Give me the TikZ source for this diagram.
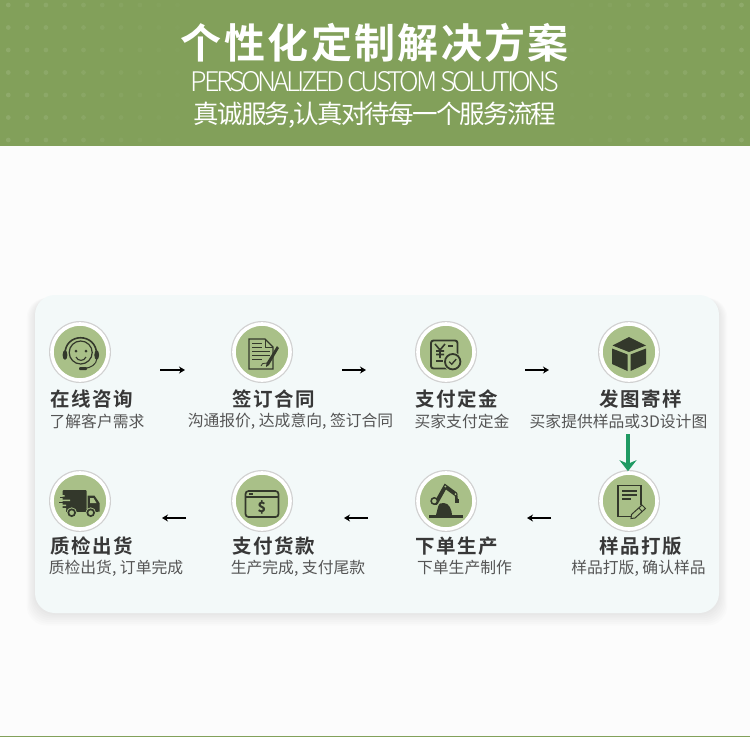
\documentclass[tikz,border=0pt]{standalone}
\usepackage{fontspec}
\usetikzlibrary{arrows.meta,calc}
\setmainfont{Noto Sans CJK SC}
\newfontfamily\titlefont[LetterSpace=5.8]{Noto Sans CJK SC Bold}
\newfontfamily\headfont[LetterSpace=8]{Noto Sans CJK SC Bold}
\newfontfamily\subfont{Noto Sans CJK SC}
\newfontfamily\thinfont[LetterSpace=-12]{Noto Sans CJK SC Light}
\newfontfamily\tagfont[LetterSpace=-7]{Noto Sans CJK SC}
\definecolor{bannergreen}{HTML}{82A05A}
\definecolor{pagebg}{HTML}{FCFCFC}
\definecolor{cardbg}{HTML}{F3F9F9}
\definecolor{discgreen}{HTML}{A9C088}
\definecolor{icondark}{HTML}{33382B}
\definecolor{headtext}{HTML}{383838}
\definecolor{subtext}{HTML}{555555}
\definecolor{arrowgreen}{HTML}{1F9A63}
\tikzset{
  disc/.style={circle,draw=white,line width=3.6pt,fill=discgreen,minimum size=56pt,inner sep=0pt},
  headlabel/.style={font=\headfont\fontsize{19.5}{22}\selectfont,text=headtext,inner sep=0pt},
  sublabel/.style={font=\subfont\fontsize{15.8}{18}\selectfont,text=subtext,inner sep=0pt},
  flowarrow/.style={draw=black,line width=1.2pt,-{Stealth[length=6pt,width=7pt]}},
  greenarrow/.style={draw=arrowgreen,line width=3.2pt,-{Stealth[length=11pt,width=17pt]}},
  iconline/.style={draw=icondark,line width=1.3pt},
  iconfill/.style={fill=icondark,draw=none}
}
\begin{document}
\begin{tikzpicture}[x=1pt,y=-1pt]
\useasboundingbox (0,0) rectangle (750,737);
\fill[pagebg] (0,0) rectangle (750,737);
% banner
\fill[bannergreen] (0,0) rectangle (750,146);
\foreach \r in {0,...,6}{
  \foreach \c in {0,...,39}{
    \pgfmathsetmacro{\dx}{8.3+18.8*\c}
    \pgfmathsetmacro{\dy}{5+22.5*\r}
    \pgfmathsetmacro{\op}{min(0.11,max(0,(abs(\dx-375)-170)/205*0.11))}
    \fill[white,opacity=\op] (\dx,\dy) circle[radius=2.4];
  }
}
\fill[bannergreen] (0,735.5) rectangle (750,737);
\node[font=\titlefont\fontsize{41}{44}\selectfont,text=white,inner sep=0pt] (title) at (375,43) {个性化定制解决方案};
\node[font=\thinfont\fontsize{27}{30}\selectfont,text=white,inner sep=0pt] (entitle) at (375,81.5) {PERSONALIZED CUSTOM SOLUTIONS};
\node[font=\tagfont\fontsize{25.5}{28}\selectfont,text=white,inner sep=0pt] (tagline) at (375,115) {真诚服务,认真对待每一个服务流程};
% card with shadow
\foreach \g in {14,12,10,8,6,4,2}{
  \fill[black,opacity=0.012] (35-\g*0.6,295+3) [rounded corners=20pt] rectangle (719+\g*0.6,613+\g*0.9);
}
\fill[cardbg,rounded corners=20pt] (35,295) rectangle (719,613);
% discs
\foreach \n/\x/\y in {c1/80/352,c2/262/352,c3/446/352,c4/629/352,c5/629/501,c6/446/501,c7/262/501,c8/80/501}{
  \fill[black!18] (\x,\y) circle[radius=31];
  \node[disc] (\n) at (\x,\y) {};
}
% icon 1 headset
\draw[iconline,line width=1.6pt] (65,355) .. controls (64,332) and (97,332) .. (96.7,355);
\draw[iconline,line width=1.2pt] (80.7,352.5) circle[radius=11.5];
\fill[icondark] (76,351) circle[radius=1.5] (86,351) circle[radius=1.5];
\draw[iconline,line width=1.1pt] (76,357) .. controls (78,361.5) and (84,361.5) .. (86,357);
\fill[icondark] (65,355) ellipse[x radius=2.4,y radius=4.8] (96.7,355) ellipse[x radius=2.4,y radius=4.8];
\draw[iconline,line width=1pt] (96.7,359) .. controls (96.7,364) and (91,368) .. (84,368.5);
\fill[icondark,rounded corners=1pt] (79,367) rectangle (87,370);
% icon 2 contract
\draw[iconline] (249,339) -- (265,339) -- (273,347) -- (273,369) -- (249,369) -- cycle;
\draw[iconline,line width=1pt] (265,339) -- (265,347) -- (273,347);
\foreach \ly/\lx in {343/262,347/262,351/270,355/270,359/262}{
  \draw[iconline,line width=1pt] (252,\ly) -- (\lx,\ly);
}
\fill[icondark] (277,346) -- (279,348) -- (269,365) -- (266,367) -- (266.5,363) -- cycle;
\draw[iconline,line width=.8pt] (261,366) .. controls (263,361) and (265,365) .. (267,363);
% icon 3 receipt
\draw[iconline,line width=1.9pt,rounded corners=2.5pt] (447,368.5) -- (431,368.5) -- (431,340.5) -- (457.5,340.5) -- (457.5,356);
\draw[iconline,line width=1.6pt] (435,344) -- (440,350) -- (445,344) (440,350) -- (440,358) (436,351) -- (444,351) (436,354.5) -- (444,354.5);
\draw[iconline,line width=1.7pt] (448,345.7) -- (453,345.7) (436,361) -- (443,361);
\fill[discgreen] (452.7,361.7) circle[radius=9.5];
\draw[iconline,line width=1.8pt] (452.7,361.7) circle[radius=7.7];
\draw[iconline,line width=1.4pt] (449.2,361.7) -- (451.7,364.2) -- (456.2,359.2);
% icon 4 cube
\fill[icondark] (629,337) -- (646,345.5) -- (629,352) -- (612.5,345.5) -- cycle;
\fill[icondark] (612,348.5) -- (627.5,354.5) -- (627.5,371) -- (612,364) -- cycle;
\fill[icondark] (646,348.5) -- (630.5,354.5) -- (630.5,371) -- (646,364) -- cycle;
% icon 5 sample doc
\draw[iconline,line width=1.4pt] (641,505) -- (641,485.5) -- (618,485.5) -- (618,516.5) -- (631,516.5);
\draw[iconline,line width=1.7pt] (622,491) -- (637,491) (622,495) -- (637,495);
\draw[iconline,line width=1.5pt] (622,499) -- (631,499);
\draw[iconline,line width=1pt,fill=discgreen] (642,505) -- (645.5,508.5) -- (635,518) -- (631,518.5) -- (631.5,514.5) -- cycle;
\draw[iconline,line width=.9pt] (639,508) -- (642,511.5);
% icon 6 robot
\fill[icondark] (428.7,514.5) rectangle (462.7,517.5);
\fill[icondark] (436,515) -- (438,507) .. controls (439,503) and (441,503) .. (444,503) .. controls (449,503) and (452,510) .. (452,515) -- cycle;
\draw[icondark,line width=4pt,line cap=round] (436,503) -- (445.3,486.5) -- (455.5,494);
\draw[icondark,line width=2.6pt] (456,494) -- (456.5,499);
\fill[icondark] (454.5,499) rectangle (458.5,502.5);
\draw[icondark,line width=1.5pt,fill=discgreen] (434.3,501) circle[radius=3.2];
\fill[discgreen] (445.3,486.5) circle[radius=1];
\fill[discgreen] (455.5,494) circle[radius=1];
% icon 7 card
\draw[iconline,line width=1.7pt,rounded corners=3pt] (245.5,491) rectangle (278.5,517);
\draw[iconline,line width=1.4pt] (245.5,497) -- (278.5,497);
\draw[iconline,line width=1.1pt] (249,494) -- (253,494);
\node[font=\fontsize{14}{14}\selectfont\bfseries,text=icondark,inner sep=0pt] (dollar) at (262,507.5) {\$};
% icon 8 truck
\fill[icondark,rounded corners=1pt] (62.7,490) rectangle (86.7,509.5);
\fill[icondark] (87.5,495.7) -- (94.5,495.7) -- (99.5,503) -- (99.5,511.5) -- (87.5,511.5) -- cycle;
\fill[discgreen] (90,498) -- (93.5,498) -- (96.5,503) -- (90,503) -- cycle;
\fill[icondark] (66,509) rectangle (98,511.5);
\fill[discgreen] (60,495) rectangle (64.5,496.5) (60,499.5) rectangle (70,501) (60,504.5) rectangle (66,506) (60,508) rectangle (66,510);
\draw[icondark,line width=1.3pt] (60,497.5) -- (66,497.5) (59,502.8) -- (66,502.8);
\foreach \wx in {71.7,90.7}{
  \fill[discgreen] (\wx,512.7) circle[radius=5.3];
  \draw[icondark,line width=1.7pt] (\wx,512.7) circle[radius=3.4];
}
% labels
\foreach \n/\x/\y/\t in {h1/91.5/399/在线咨询,h2/273.5/399/签订合同,h3/457/399/支付定金,h4/640.5/399/发图寄样,h5/640.5/546/样品打版,h6/457/546/下单生产,h7/273.5/546/支付货款,h8/91.5/546/质检出货}{
  \node[headlabel] (\n) at (\x,\y) {\t};
}
\foreach \n/\x/\y/\t in {s1/97/421/了解客户需求,s2/290.5/421/{沟通报价, 达成意向, 签订合同},s3/462/421/买家支付定金,s4/618.5/421/买家提供样品或3D设计图,s5/638.5/568/{样品打版, 确认样品},s6/464.5/568/下单生产制作,s7/298/568/{生产完成, 支付尾款},s8/116/568/{质检出货, 订单完成}}{
  \node[sublabel] (\n) at (\x,\y) {\t};
}
% connectors
\coordinate (a1s) at (160,370); \coordinate (a1e) at (185,370);
\coordinate (a2s) at (342,370); \coordinate (a2e) at (366,370);
\coordinate (a3s) at (525,370); \coordinate (a3e) at (549,370);
\coordinate (a5s) at (551,518); \coordinate (a5e) at (527,518);
\coordinate (a6s) at (368,518); \coordinate (a6e) at (344,518);
\coordinate (a7s) at (186,518); \coordinate (a7e) at (162,518);
\foreach \p/\q in {a1s/a1e,a2s/a2e,a3s/a3e,a5s/a5e,a6s/a6e,a7s/a7e}{
  \draw[flowarrow] (\p) -- (\q);
}
\draw[greenarrow] ($(c4.center)+(-1,82)$) -- (c5.north -| 628,0);
\end{tikzpicture}
\end{document}
